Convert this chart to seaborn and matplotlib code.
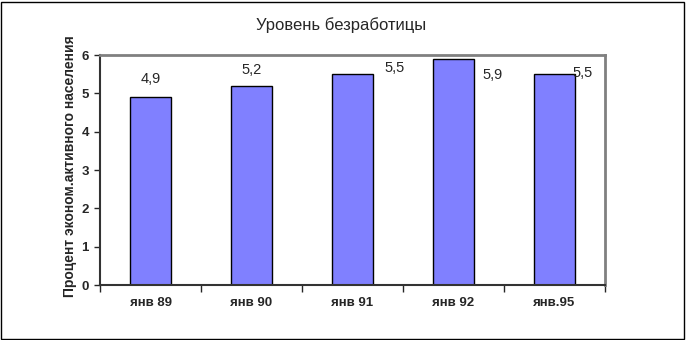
import matplotlib
matplotlib.use("Agg")
import matplotlib.pyplot as plt
import seaborn as sns
import pandas as pd
from matplotlib.patches import Rectangle

categories = ["янв 89", "янв 90", "янв 91", "янв 92", "янв.95"]
values = [4.9, 5.2, 5.5, 5.9, 5.5]
value_labels = ["4,9", "5,2", "5,5", "5,9", "5,5"]
y_ticks = [0, 1, 2, 3, 4, 5, 6]

sns.set_style("white")
plt.rcParams["font.family"] = ["Liberation Sans", "DejaVu Sans"]

df = pd.DataFrame({"cat": categories, "val": values})

fig = plt.figure(figsize=(6.86, 3.40), dpi=100)
ax = fig.add_axes([100 / 686, 1 - 285 / 340, 505 / 686, 230 / 340])

sns.barplot(data=df, x="cat", y="val", ax=ax, color="#8080FF", saturation=1,
            width=0.4, edgecolor="black", linewidth=1)

ax.set_xlim(-0.5, len(categories) - 0.5)
ax.set_ylim(0, 6)
ax.set_yticks(y_ticks)
ax.set_yticklabels([str(t) for t in y_ticks], fontsize=9.5, fontweight="bold")
ax.set_xticks(range(len(categories)))
ax.set_xticklabels(categories, fontsize=9.5, fontweight="bold")
ax.tick_params(axis="x", length=0, pad=9)
ax.tick_params(axis="y", length=4, width=1, direction="out", left=True, pad=4)
# category boundary ticks
ax.set_xticks([i - 0.5 for i in range(len(categories) + 1)], minor=True)
ax.tick_params(axis="x", which="minor", length=5, width=1, direction="out", bottom=True)

ax.set_xlabel("")
ax.set_ylabel("Процент эконом.активного населения", fontsize=10, fontweight="bold")
ax.yaxis.set_label_coords(-0.046, 0.517)

for s in ["left", "bottom"]:
    ax.spines[s].set_color("#333333")
    ax.spines[s].set_linewidth(1.5)
for s in ["top", "right"]:
    ax.spines[s].set_visible(True)
    ax.spines[s].set_color("#808080")
    ax.spines[s].set_linewidth(2)

# data labels (positions as in the reference)
label_pos = [(0.0, 5.37), (1.0, 5.61), (2.42, 5.66), (3.39, 5.48), (4.28, 5.53)]
for (lx, ly), txt in zip(label_pos, value_labels):
    ax.text(lx, ly, txt, ha="center", va="center", fontsize=10.5)

fig.text(341 / 686, 1 - 25 / 340, "Уровень безработицы", ha="center", va="center", fontsize=12)

fig.patches.append(Rectangle((1 / 686, 1 / 340), 683 / 686, 337 / 340, transform=fig.transFigure,
                             fill=False, edgecolor="black", linewidth=1))

fig.savefig("out.png", dpi=100)
